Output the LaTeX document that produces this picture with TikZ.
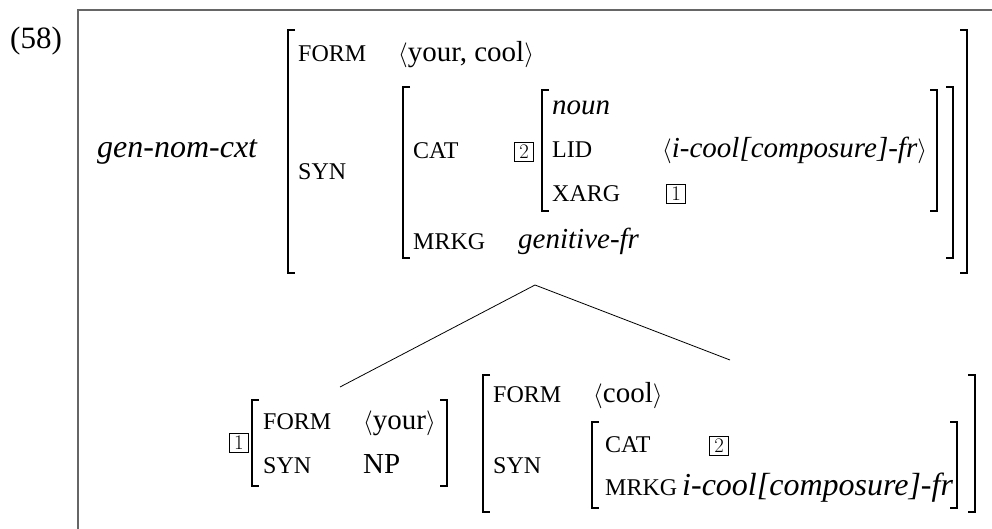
\documentclass[tikz,border=0pt]{standalone}
\usepackage{fontspec}
\setmainfont{Liberation Serif}
\usepackage{amsmath}

\newcommand{\feat}[1]{{\fontsize{24}{28}\selectfont #1}}
\newcommand{\lbrk}[3]{\draw[brk] (#1+7,#2) -- (#1,#2) -- (#1,#3) -- (#1+7,#3);}
\newcommand{\rbrk}[3]{\draw[brk] (#1-7,#2) -- (#1,#2) -- (#1,#3) -- (#1-7,#3);}

\tikzset{
  txt/.style={anchor=base west, inner sep=0pt},
  tag/.style={draw, line width=0.7pt, inner sep=0pt, minimum size=19pt,
              font=\fontsize{21}{24}\selectfont},
  brk/.style={line width=1.8pt},
  frame/.style={line width=1.3pt, black!60}
}

\begin{document}
\begin{tikzpicture}[x=1pt, y=-1pt, font=\fontsize{29}{34}\selectfont]
                \useasboundingbox (0,0) rectangle (992,529);
                \draw[frame] (78,529) -- (78,10) -- (992,10);

                \node[txt, font=\fontsize{31}{36}\selectfont] (ex) at (10,49) {(58)};
                \node[txt, font=\fontsize{32}{38}\selectfont] (type) at (97,158) {\textit{gen-nom-cxt}};

                % mother
                \node[txt] (form) at (298,62) {\feat{FORM}};
                \node[txt] (formv) at (398,62) {$\langle$your, cool$\rangle$};
                \node[txt] (syn) at (298,180) {\feat{SYN}};
                \node[txt] (cat) at (413,159) {\feat{CAT}};
                \node[tag] (two) at (524,151.5) {$2$};
                \node[txt] (noun) at (552,115) {\textit{noun}};
                \node[txt] (lid) at (552,158) {\feat{LID}};
                \node[txt] (lidv) at (662,158) {$\langle$\textit{i-cool[composure]-fr}$\rangle$};
                \node[txt] (xarg) at (552,202) {\feat{XARG}};
                \node[tag] (one) at (676,193.5) {$1$};
                \node[txt] (mrkg) at (413,249) {\feat{MRKG}};
                \node[txt] (mrkgv) at (518,248) {\textit{genitive-fr}};

                \lbrk{288}{30}{273} \rbrk{967}{30}{273}
                \lbrk{403}{87}{258} \rbrk{953}{87}{258}
                \lbrk{542}{90}{211} \rbrk{937}{90}{211}

                % daughters
                \node[tag] (oneL) at (239,442.5) {$1$};
                \node[txt] (formL) at (263,429) {\feat{FORM}};
                \node[txt] (formLv) at (363,429) {$\langle$your$\rangle$};
                \node[txt] (synL) at (263,473) {\feat{SYN}};
                \node[txt] (synLv) at (363,473) {NP};
                \lbrk{252}{400}{486} \rbrk{447}{400}{486}

                \node[txt] (formR) at (493,402) {\feat{FORM}};
                \node[txt] (formRv) at (593,402) {$\langle$cool$\rangle$};
                \node[txt] (synR) at (493,473) {\feat{SYN}};
                \node[txt] (catR) at (605,452) {\feat{CAT}};
                \node[tag] (twoR) at (719,445.5) {$2$};
                \node[txt] (mrkgR) at (605,495) {\feat{MRKG}};
                \node[txt, font=\fontsize{32}{38}\selectfont] (mrkgRv) at (682,495) {\textit{i-cool[composure]-fr}};
                \lbrk{483}{375}{512} \rbrk{975}{375}{512}
                \lbrk{592}{422}{508} \rbrk{957}{422}{508}

                \coordinate (M) at (535,285);
                \coordinate (L) at (340,387);
                \coordinate (R) at (730,360);
                \draw[line width=0.8pt] (L) -- (M) -- (R);

\end{tikzpicture}
\end{document}
